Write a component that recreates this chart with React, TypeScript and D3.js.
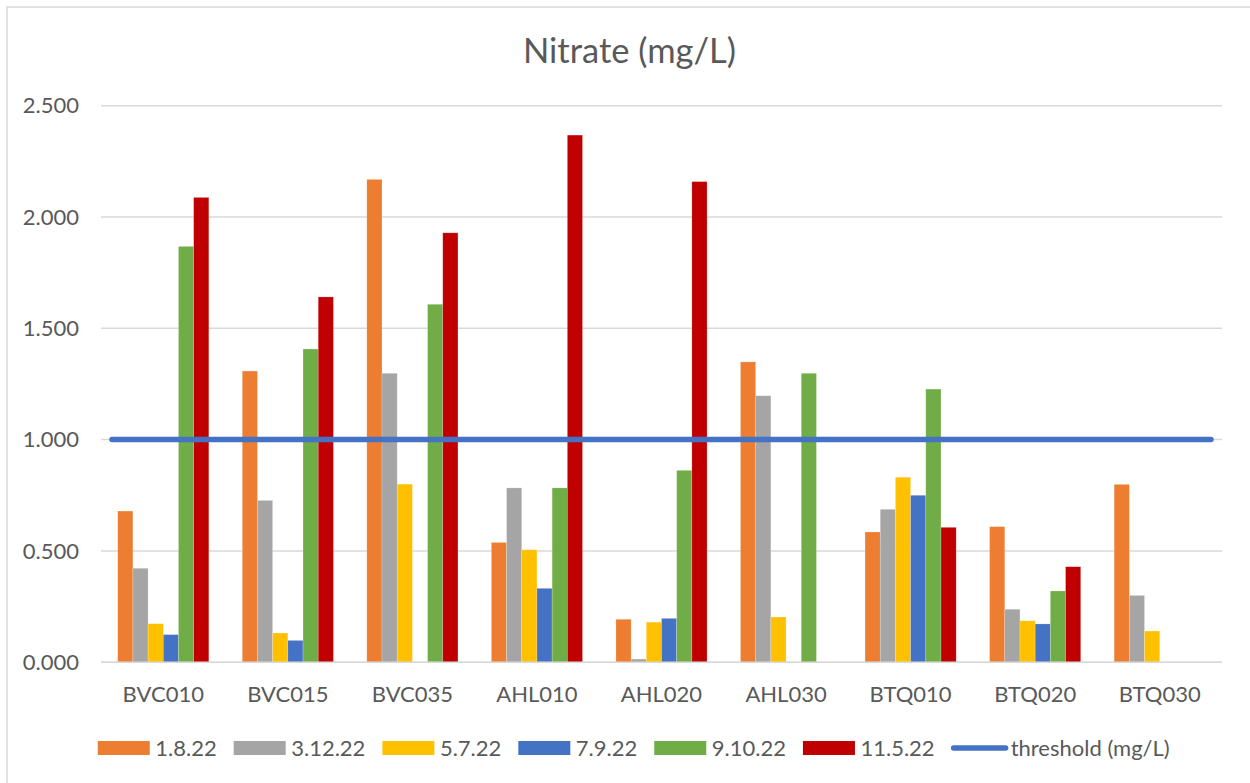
import * as d3 from 'd3';
import React, { useEffect, useRef } from 'react';

const sites = ['BVC010', 'BVC015', 'BVC035', 'AHL010', 'AHL020', 'AHL030', 'BTQ010', 'BTQ020', 'BTQ030'];
const seriesNames = ['1.8.22', '3.12.22', '5.7.22', '7.9.22', '9.10.22', '11.5.22'];
const seriesColors = ['#ED7D31', '#A5A5A5', '#FFC000', '#4472C4', '#70AD47', '#C00000'];

const s1_8_22 = [0.679, 1.308, 2.169, 0.538, 0.193, 1.349, 0.585, 0.609, 0.799];
const s3_12_22 = [0.422, 0.727, 1.298, 0.783, 0.014, 1.197, 0.687, 0.238, 0.300];
const s5_7_22 = [0.173, 0.131, 0.800, 0.505, 0.180, 0.203, 0.831, 0.186, 0.140];
const s7_9_22 = [0.124, 0.098, null, 0.332, 0.197, null, 0.750, 0.172, null];
const s9_10_22 = [1.868, 1.407, 1.608, 0.783, 0.862, 1.298, 1.227, 0.320, null];
const s11_5_22 = [2.088, 1.641, 1.929, 2.368, 2.159, null, 0.606, 0.429, null];
const threshold = [1, 1, 1, 1, 1, 1, 1, 1, 1];

const yTicks = [0, 0.5, 1, 1.5, 2, 2.5];
const thresholdName = 'threshold (mg/L)';
const thresholdColor = '#4472C4';

const FONT = 'Lato, "Open Sans", sans-serif';
const TEXT = '#595959';

const App = () => {
    const svgRef = useRef(null);

    useEffect(() => {
        const svg = d3.select(svgRef.current);
        svg.selectAll('*').remove();

        const allSeries = [s1_8_22, s3_12_22, s5_7_22, s7_9_22, s9_10_22, s11_5_22];

        // chart border (runs past the right and bottom edges)
        svg.append('rect')
            .attr('x', 7).attr('y', 7)
            .attr('width', 1260).attr('height', 800)
            .attr('fill', '#fff')
            .attr('stroke', '#d9d9d9')
            .attr('stroke-width', 1.5);

        svg.append('text')
            .attr('x', 629.5).attr('y', 63)
            .attr('text-anchor', 'middle')
            .attr('font-family', FONT)
            .attr('font-size', 34.5)
            .attr('fill', TEXT)
            .text('Nitrate (mg/L)');

        const left = 101, right = 1222;
        const y = d3.scaleLinear().domain([0, 2.5]).range([662.2, 105.7]);
        const x = d3.scaleBand().domain(sites).range([left, right]).paddingInner(0).paddingOuter(0);
        const xs = d3.scaleBand().domain(seriesNames).range([0, x.bandwidth()]).paddingInner(0).paddingOuter(1.1);

        // gridlines + y labels
        const grid = svg.append('g');
        grid.selectAll('line').data(yTicks).join('line')
            .attr('x1', left).attr('x2', right)
            .attr('y1', d => y(d)).attr('y2', d => y(d))
            .attr('stroke', '#d9d9d9').attr('stroke-width', 1.5);
        grid.selectAll('text').data(yTicks).join('text')
            .attr('x', 79).attr('y', d => y(d))
            .attr('dy', '0.35em')
            .attr('text-anchor', 'end')
            .attr('font-family', FONT).attr('font-size', 22)
            .attr('fill', TEXT)
            .text(d => d3.format('.3f')(d));

        // bars
        allSeries.forEach((vals, si) => {
            svg.append('g').selectAll('rect')
                .data(vals.map((v, i) => ({ site: sites[i], v })).filter(d => d.v != null))
                .join('rect')
                .attr('x', d => x(d.site) + xs(seriesNames[si]))
                .attr('width', xs.bandwidth())
                .attr('y', d => y(d.v))
                .attr('height', d => y(0) - y(d.v))
                .attr('fill', seriesColors[si])
                .attr('stroke', '#fff').attr('stroke-opacity', 0.35).attr('stroke-width', 0.6);
        });

        // x axis line
        svg.append('line')
            .attr('x1', left).attr('x2', right)
            .attr('y1', y(0)).attr('y2', y(0))
            .attr('stroke', '#d9d9d9').attr('stroke-width', 1.5);

        svg.append('g').selectAll('text').data(sites).join('text')
            .attr('x', d => x(d) + x.bandwidth() / 2)
            .attr('y', 701.5)
            .attr('text-anchor', 'middle')
            .attr('font-family', FONT).attr('font-size', 22)
            .attr('fill', TEXT)
            .text(d => d);

        // threshold line
        const xp = d3.scalePoint().domain(sites).range([left, right]).padding(0.08);
        svg.append('path')
            .datum(threshold)
            .attr('fill', 'none')
            .attr('stroke', thresholdColor)
            .attr('stroke-width', 5.5)
            .attr('stroke-linecap', 'round')
            .attr('d', d3.line<number>()
                .x((d, i) => xp(sites[i]))
                .y(d => y(d)));

        // legend
        const legend = svg.append('g');
        const items = seriesNames.map((n, i) => ({ name: n, color: seriesColors[i], line: false }))
            .concat([{ name: thresholdName, color: thresholdColor, line: true }]);
        let cx = 0;
        const ly = 748;
        const gap = 17;
        items.forEach(it => {
            const g = legend.append('g').attr('transform', 'translate(' + cx + ',0)');
            if (it.line) {
                g.append('line')
                    .attr('x1', 2).attr('x2', 54)
                    .attr('y1', ly).attr('y2', ly)
                    .attr('stroke', it.color).attr('stroke-width', 5.5)
                    .attr('stroke-linecap', 'round');
            } else {
                g.append('rect')
                    .attr('x', 0).attr('y', ly - 7)
                    .attr('width', 52).attr('height', 14)
                    .attr('fill', it.color);
            }
            const t = g.append('text')
                .attr('x', it.line ? 59 : 57.5).attr('y', ly)
                .attr('dy', '0.35em')
                .attr('font-family', FONT).attr('font-size', 22)
                .attr('fill', TEXT)
                .text(it.name);
            const tw = (t.node() as SVGTextElement).getComputedTextLength();
            cx += 57.5 + tw + gap;
        });
        const total = cx - gap;
        legend.attr('transform', 'translate(' + (633 - total / 2) + ',0)');
    }, []);

    return (
        <svg ref={svgRef} width={1250} height={783}
            style={{ position: 'absolute', left: 0, top: 0, background: '#fff' }} />
    );
};

export default App;
